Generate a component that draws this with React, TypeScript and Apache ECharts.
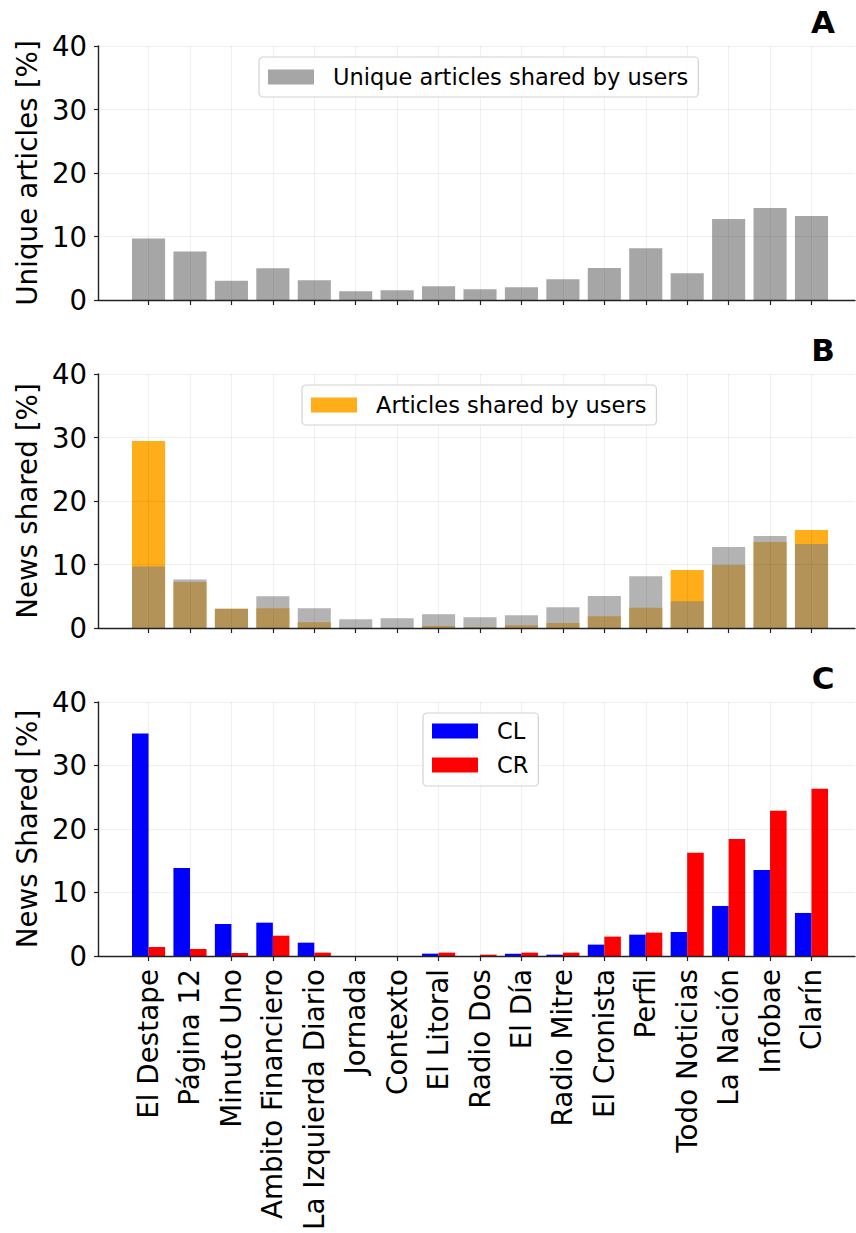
import React, { useEffect, useRef } from "react";
import * as echarts from "echarts";

const categories = [
  "El Destape", "Página 12", "Minuto Uno", "Ambito Financiero", "La Izquierda Diario",
  "Jornada", "Contexto", "El Litoral", "Radio Dos", "El Día", "Radio Mitre",
  "El Cronista", "Perfil", "Todo Noticias", "La Nación", "Infobae", "Clarín",
];

// Panel A / B (gray): unique articles shared by users [%]
const uniqueArticles = [9.7, 7.65, 3.05, 5.0, 3.1, 1.37, 1.52, 2.15, 1.68, 2.0, 3.28, 5.02, 8.15, 4.22, 12.75, 14.48, 13.22];
// Panel B (orange): articles shared by users [%]
const articlesShared = [29.43, 7.25, 3.05, 3.1, 0.89, 0, 0, 0.32, 0.16, 0.42, 0.77, 1.87, 3.18, 9.14, 9.93, 13.55, 15.45];
// Panel C
const clValues = [35.05, 13.87, 5.04, 5.25, 2.1, 0, 0, 0.37, 0, 0.37, 0.21, 1.79, 3.36, 3.78, 7.88, 13.56, 6.78];
const crValues = [1.42, 1.1, 0.47, 3.2, 0.53, 0, 0, 0.53, 0.21, 0.53, 0.53, 3.05, 3.68, 16.24, 18.44, 22.86, 26.33];

const yTitles = ["Unique articles [%]", "News shared [%]", "News Shared [%]"];
const panelLetters = ["A", "B", "C"];

const FONT = "DejaVu Sans";

export default function App() {
  const ref = useRef<HTMLDivElement>(null);

  useEffect(() => {
    document.body.style.margin = "0";
    if (!ref.current) return;
    const chart = echarts.init(ref.current, null, { renderer: "svg" });

    const idx = categories.map((_, i) => i);
    const tops = [46, 374, 702];
    const spineColor = "#222";
    const gridColor = "rgba(0,0,0,0.06)";

    const grids = tops.map((t) => ({ left: 98, right: 1, top: t, height: 254 }));

    const xAxes = tops.map((_, k) => ({
      type: "value",
      gridIndex: k,
      min: -1.22,
      max: 17.05,
      z: 3,
      axisLine: { show: true, onZero: false, lineStyle: { color: spineColor, width: 1.4 } },
      axisTick: { show: true, customValues: idx, length: 5, lineStyle: { color: spineColor, width: 1.2 } },
      axisLabel: {
        show: k === 2,
        customValues: idx,
        rotate: 90,
        margin: 13,
        fontSize: 27.8,
        fontFamily: FONT,
        color: "#000",
        formatter: (v: number) => categories[Math.round(v)] ?? "",
      },
      splitLine: { show: true, lineStyle: { color: gridColor, width: 1 } },
    }));

    const yAxes = tops.map((_, k) => ({
      type: "value",
      gridIndex: k,
      min: 0,
      max: 40,
      interval: 10,
      z: 3,
      name: yTitles[k],
      nameLocation: "middle",
      nameGap: 52,
      nameTextStyle: { fontSize: 27.8, fontFamily: FONT, color: "#000" },
      axisLine: { show: true, onZero: false, lineStyle: { color: spineColor, width: 1.4 } },
      axisTick: { show: true, length: 4, lineStyle: { color: spineColor, width: 1.2 } },
      axisLabel: { fontSize: 27.5, fontFamily: FONT, color: "#000", margin: 11 },
      splitLine: { show: true, lineStyle: { color: gridColor, width: 1 } },
    }));

    const toData = (vals: number[]) => vals.map((v, i) => [i, v]);
    const W = 33.1;

    const series = [
      {
        name: "Unique articles shared by users",
        type: "bar",
        xAxisIndex: 0,
        yAxisIndex: 0,
        barWidth: W,
        itemStyle: { color: "#a6a6a6" },
        data: toData(uniqueArticles),
      },
      {
        name: "Articles shared by users",
        type: "bar",
        xAxisIndex: 1,
        yAxisIndex: 1,
        barWidth: W,
        barGap: "-100%",
        itemStyle: { color: "#ffae19" },
        data: toData(articlesShared),
      },
      {
        name: "Unique articles (overlay)",
        type: "bar",
        xAxisIndex: 1,
        yAxisIndex: 1,
        barWidth: W,
        barGap: "-100%",
        itemStyle: { color: "#808080", opacity: 0.6 },
        data: toData(uniqueArticles),
      },
      {
        name: "CL",
        type: "bar",
        xAxisIndex: 2,
        yAxisIndex: 2,
        barWidth: W / 2,
        barGap: "0%",
        itemStyle: { color: "#0000ff" },
        data: toData(clValues),
      },
      {
        name: "CR",
        type: "bar",
        xAxisIndex: 2,
        yAxisIndex: 2,
        barWidth: W / 2,
        barGap: "0%",
        itemStyle: { color: "#ff0000" },
        data: toData(crValues),
      },
    ];

    const legendBase = {
      icon: "rect",
      itemWidth: 46,
      itemHeight: 15,
      borderColor: "#d2d2d2",
      borderWidth: 1.2,
      borderRadius: 4,
      backgroundColor: "rgba(255,255,255,0.85)",
      selectedMode: false,
      textStyle: { fontSize: 22.5, fontFamily: FONT, color: "#000", padding: [0, 0, 0, 14], lineHeight: 26 },
    };

    const legends = [
      { ...legendBase, left: 259, top: 57, padding: [7, 10, 7, 9], data: ["Unique articles shared by users"] },
      { ...legendBase, left: 302, top: 385, padding: [7, 10, 7, 9], data: ["Articles shared by users"] },
      { ...legendBase, left: 423, top: 713, orient: "vertical", itemGap: 8, padding: [5, 10, 8, 9], data: ["CL", "CR"] },
    ];

    const graphic = panelLetters.map((L, k) => ({
      type: "text",
      x: 823,
      y: tops[k] - 24,
      style: {
        text: L,
        fontSize: 31,
        fontWeight: "bold",
        fontFamily: FONT,
        fill: "#000",
        align: "center",
        verticalAlign: "middle",
      },
    }));

    chart.setOption({
      animation: false,
      backgroundColor: "#fff",
      grid: grids,
      xAxis: xAxes,
      yAxis: yAxes,
      legend: legends,
      series,
      graphic,
    });

    return () => chart.dispose();
  }, []);

  return <div ref={ref} style={{ width: 856, height: 1233 }} />;
}
